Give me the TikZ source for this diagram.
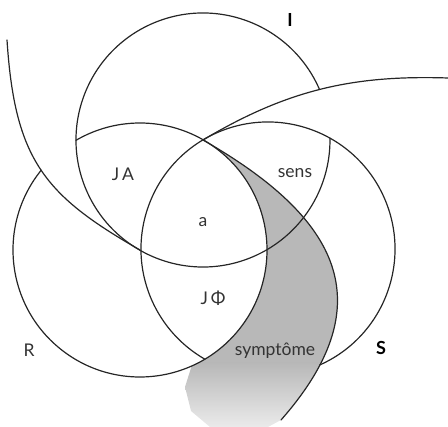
\documentclass[tikz,border=0pt]{standalone}
\usepackage{fontspec}
\setmainfont{Lato}
\usetikzlibrary{calc}
\begin{document}
\begin{tikzpicture}[x=1pt,y=1pt,
  ring/.style={draw=black!85, line width=1.2pt, line cap=round},
  lbl/.style={font=\fontsize{17.5}{19}\selectfont, text=black!80, inner sep=0pt},
  big/.style={font=\fontsize{18}{20}\selectfont\bfseries, text=black, inner sep=0pt}]
\useasboundingbox (0,0) rectangle (448,427);
% centres of the three rings
\coordinate (Ic) at (203,287);
\coordinate (Rc) at (140,177);
\coordinate (Sc) at (268,178);
\coordinate (J) at (203,287);
\coordinate (T) at (140,177);
% tail ends
\coordinate (Iend) at (7,387);
\coordinate (Send) at (448,349);
\coordinate (Rend) at (281,7);
% shaded band of R (symptome), fading out at the bottom
\begin{scope}
  \clip (J) .. controls (337.5,210) and (385,125) .. (Rend)
    -- (268,0) -- (210,0) -- (191,16) -- (185,40)
    -- ($(Rc)+(-66:127pt)$) arc[start angle=-66, end angle=60.2, radius=127pt] -- cycle;
  \fill[black!28] (0,64) rectangle (448,300);
  \shade[top color=black!28, bottom color=black!8] (0,0) rectangle (448,64.5);
\end{scope}
% rings
\draw[ring] (Ic) ++(23.4:127pt) arc[start angle=23.4, end angle=360.8, radius=127pt];
\draw[ring] (Rc) ++(141:127pt) arc[start angle=141, end angle=480.3, radius=127pt];
\draw[ring] (Sc) ++(-66:127pt) arc[start angle=-66, end angle=240.2, radius=127pt];
% tails
\draw[ring] (T) .. controls (44.5,231.7) and (14.8,267) .. (Iend);
\draw[ring] (J) .. controls (288.9,338.2) and (355,352) .. (Send);
\draw[ring] (J) .. controls (337.5,210) and (385,125) .. (Rend);
% labels
\node[big] (lI) at (290,407) {I};
\node[lbl] (lJA) at (123,253) {J\,A};
\node[lbl] (lsens) at (295,254) {sens};
\node[lbl] (la) at (203,205) {a};
\node[lbl] (lJP) at (213,129) {J\,Φ};
\node[lbl] (lR) at (29,77) {R};
\node[lbl] (lsym) at (275,76) {symptôme};
\node[big] (lS) at (381,79) {S};
\end{tikzpicture}
\end{document}
